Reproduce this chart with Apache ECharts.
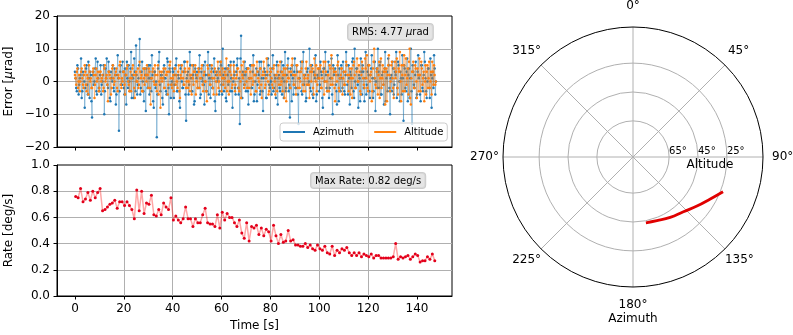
<!DOCTYPE html>
<html>
<head>
<meta charset="utf-8">
<script src="https://cdn.jsdelivr.net/npm/echarts@6/dist/echarts.min.js"></script>
<style>
  html, body { margin: 0; padding: 0; background: #fff; }
  #chart { width: 793px; height: 335px; }
</style>
</head>
<body>
<div id="chart"></div>
<script>
// pointing error, µrad: samples on the half second (A) and on the quarter offsets (B)
const azimuthErrA = [
  3, -2, 5, -4, 1, 7, -3, 2, -8, 4, -1, 6, -5, 2, -11, 3, 0, 7, -4, 1,
  -3, 5, -1, 2, -10, 4, 7, -2, 3, -6, 1, 5, -3, 2, -4, 8, -15, 3, -1, 6,
  -2, 4, -7, 1, 5, -3, 9, 2, -5, 3, 11, -4, 1, 13, -2, 6, -3, 4, -9, 2,
  5, -4, 1, 8, -6, 3, -2, -17, 4, 9, -3, 2, -7, 5, 1, -4, 6, -10, 3, -1,
  4, -5, 2, 7, -3, 1, -8, 5, -2, 3, 6, -12, 2, -4, 9, 1, -3, 5, -6, 2,
  3, -2, 8, -4, 1, 5, -7, 2, -3, 9, 1, -5, 4, -2, 7, -9, 3, 1, -4, 6,
  -1, 10, -3, 4, -6, 2, 5, -3, 1, -8, 6, -2, 3, 7, -4, -13, 14, -5, 2, 6,
  -3, 4, -7, 1, 5, -2, 8, -4, 2, -6, 3, 6, -3, 1, -9, 4, 2, -5, 7, -1,
  3, -4, 8, -2, 1, 5, -7, 2, -3, 6, 1, -5, 9, -2, 4, -3, -11, 2, 5, -4,
  7, -2, 3, -13, 1, 6, -4, 9, 2, -6, 3, -1, 10, -3, 5, -5, 2, 8, -4, 1,
  -3, 6, 2, -8, 4, 9, -2, 3, -5, 1, 7, -10, 2, 4, -3, 8, -6, 1, 5, -2,
  3, -4, 9, -1, 5, -7, 2, 6, -3, 10, -2, 4, -8, 1, 7, -4, 3, -6, 9, -1,
  5, -3, 2, 8, -5, 1, -9, 4, 10, -2, 6, -4, 3, -7, 9, 1, -3, 5, -10, 2,
  6, -4, 3, 9, -2, 5, -6, 1, 8, -12, 4, -3, 7, 2, -5, 10, -13, 3, -2, 6,
  -4, 8, 2, -6, 5, -3, 9, 1, -5, 4, -2, 7, -8, 3, 8, -4
];
const azimuthErrB = [
  1, -3, 4, -1, 2, -5, 3, 0, -2, 5, -4, 1, 3, -6, 2, -1, 4, -3, 6, -2,
  2, -4, 0, 5, -3, 1, -1, 6, -5, 3, 0, -2, 4, -7, 2, 1, -3, 5, -1, 3,
  -4, 2, 6, -2, 0, 4, -5, 1, 7, -3, 2, -1, 5, -4, 3, 0, -6, 2, 4, -2,
  1, 5, -3, 2, -8, 3, 0, -4, 6, -1, 2, -5, 3, 1, -3, 7, -2, 4, -5, 0,
  3, -1, 5, -3, 2, -6, 4, 0, -2, 6, -4, 1, 3, -1, 5, -3, 2, -7, 4, 1,
  -2, 4, -5, 3, 0, -1, 6, -3, 2, -4, 5, 1, -2, 3, -6, 2, 0, 4, -3, 5,
  -4, 2, 1, -5, 4, -1, 3, 6, -3, 0, 2, -4, 5, -2, 1, 7, -5, 3, -1, 2,
  4, -3, 1, 5, -2, 3, -6, 0, 4, -1, 2, -4, 6, -3, 1, 3, -5, 2, 5, -2,
  0, 4, -3, 2, -5, 6, 1, -2, 3, -4, 5, 0, -3, 2, 7, -1, 4, -6, 1, 3,
  -2, 5, -4, 1, 3, -3, 6, -1, 2, -5, 4, 0, -2, 5, -4, 3, 1, -6, 2, 4,
  -1, 3, -5, 4, 0, 2, -3, 6, -2, 1, -4, 5, 3, -1, -7, 2, 4, -3, 1, 6,
  -3, 2, 5, -4, 1, 3, -2, 7, -5, 0, 4, -1, 2, -6, 3, 5, -2, 1, -4, 3,
  2, -5, 4, 1, -3, 6, 0, -2, 3, 5, -4, 2, -1, 4, -6, 3, 7, -2, 1, -3,
  4, -1, 2, -5, 6, 0, 3, -4, 1, 5, -2, 3, -6, 4, 1, -3, 5, -1, 2, -5,
  3, 1, -4, 5, -2, 2, 6, -3, 0, 4, -5, 2, 1, -2, 4, 0
];
const altitudeErrA = [
  2, -1, 4, 0, -3, 3, 1, -2, 5, -1, 2, -4, 3, 1, -2, 4, -5, 2, 0, 3,
  -2, 3, 1, -3, 4, 0, 2, -6, 3, 1, -2, 5, -1, 2, 4, -3, 1, 6, -2, 0,
  3, -4, 2, 5, -1, 1, -3, 4, 2, -5, 3, 0, -2, 6, 1, -3, 4, -1, 2, 5,
  -2, 3, -7, 1, 4, -1, 2, -3, 5, 0, -8, 3, 1, -2, 4, 2, -4, 3, 6, -1,
  1, -3, 4, 2, -2, 5, -5, 1, 3, -1, 4, -2, 6, 0, -3, 2, 5, -1, 3, -4,
  2, 4, -2, 1, 5, -3, 3, 0, -6, 4, 2, -1, 5, -2, 1, 3, -4, 6, 0, 2,
  -3, 4, 1, -2, 7, 0, -4, 3, 2, -1, 5, -3, 1, 4, -2, 3, -5, 2, 6, -1,
  3, -2, 4, 1, -4, 5, 0, 2, -3, 6, 1, -2, 4, -5, 3, 2, -1, 7, 0, -3,
  4, 1, -2, 5, -4, 2, 3, -1, 6, 0, -3, 4, 2, -6, 5, 1, -2, 3, 7, -1,
  2, -4, 5, 1, -2, 3, 6, -3, 1, 4, -1, 2, -5, 5, 3, -2, 7, 0, -3, 4,
  1, 5, -2, 3, -4, 6, 0, 2, -3, 4, 8, -1, 3, -6, 2, 5, -2, 1, 4, -4,
  3, -1, 6, 2, -3, 4, 1, -5, 5, 2, -2, 7, 0, 3, -4, 6, 1, -2, 4, 8,
  -3, 5, 2, -6, 4, 10, -1, 3, -4, 6, 1, -2, 5, 3, -7, 4, 2, 8, -3, 5,
  1, -5, 6, 3, -2, 4, 9, -6, 2, 5, -3, 7, 1, -4, 10, -7, 3, 6, -2, 4,
  -5, 2, 7, -3, 4, 1, -6, 5, 3, -2, 6, 0, -4, 3, 5, -1
];
const altitudeErrB = [
  1, 3, -2, 2, 0, 4, -1, 2, 3, -3, 1, 5, 0, -2, 3, 2, -1, 4, 1, -3,
  3, 0, 2, -2, 5, 1, -1, 3, 2, -4, 4, 1, 0, 3, -2, 2, 5, -1, 1, 3,
  -1, 2, 4, 0, -3, 3, 1, 5, -2, 2, 0, 4, -1, 3, 2, -3, 1, 4, 0, 2,
  4, -2, 1, 3, 0, 5, -1, 2, -4, 3, 1, 0, 4, -2, 2, 3, -1, 5, 1, -2,
  2, 4, -1, 0, 3, -3, 2, 5, 1, -1, 3, 0, -2, 4, 2, -4, 1, 3, 5, 0,
  -2, 3, 1, 4, -1, 2, 0, -3, 5, 2, -1, 3, 1, -4, 4, 0, 2, -2, 3, 6,
  1, -1, 3, 2, -3, 4, 0, 5, -2, 1, 3, -1, 2, 4, -3, 0, 5, 1, -2, 3,
  0, 4, -2, 3, 1, -1, 5, 2, -3, 3, 0, 4, -1, 2, 6, -2, 1, 3, -4, 2,
  3, -1, 4, 0, 2, -3, 5, 1, -1, 3, 2, -5, 4, 0, 1, 3, -2, 5, 2, -1,
  2, 5, -2, 3, 0, 4, -1, 2, -3, 6, 1, -1, 3, 0, 4, -4, 2, 5, -1, 1,
  4, -2, 1, 6, 0, 3, -3, 2, 5, -1, 1, 4, -2, 3, 0, 6, -3, 2, 4, 1,
  -1, 3, 5, 0, 2, -4, 4, 1, 6, -2, 3, 0, 5, -3, 2, 4, -1, 7, 1, -2,
  5, 0, 3, -3, 6, 1, -2, 4, 2, -5, 7, 1, -1, 4, 3, -6, 5, 2, 0, 6,
  -2, 4, 1, 7, -4, 3, 0, 5, -3, 8, 2, -1, 4, 6, -5, 1, 3, -2, 5, 0,
  4, -3, 2, 6, -1, 3, 0, -4, 5, 1, -2, 3, 6, -1, 2, 0
];
const errStep = 0.5;

// slew rate, one sample per second, deg/s
const rateValues = [
  0.76, 0.75, 0.82, 0.72, 0.74, 0.79, 0.73, 0.80, 0.75, 0.79, 0.82,
  0.65, 0.66, 0.68, 0.70, 0.71, 0.73, 0.67, 0.72, 0.72, 0.69,
  0.72, 0.69, 0.66, 0.59, 0.81, 0.65, 0.80, 0.63, 0.71, 0.70,
  0.77, 0.62, 0.61, 0.66, 0.62, 0.71, 0.68, 0.66, 0.75, 0.58,
  0.61, 0.58, 0.56, 0.59, 0.68, 0.59, 0.59, 0.53, 0.59, 0.56,
  0.56, 0.62, 0.67, 0.56, 0.55, 0.55, 0.53, 0.62, 0.52, 0.64,
  0.58, 0.63, 0.60, 0.60, 0.56, 0.53, 0.58, 0.48, 0.44, 0.56,
  0.42, 0.53, 0.52, 0.54, 0.47, 0.52, 0.46, 0.51, 0.49, 0.42,
  0.54, 0.46, 0.40, 0.47, 0.41, 0.42, 0.50, 0.42, 0.43, 0.39,
  0.39, 0.38, 0.38, 0.40, 0.37, 0.39, 0.36, 0.35, 0.39, 0.36,
  0.35, 0.38, 0.33, 0.32, 0.38, 0.31, 0.35, 0.33, 0.36, 0.35,
  0.37, 0.33, 0.31, 0.33, 0.31, 0.33, 0.30, 0.32, 0.31, 0.30,
  0.32, 0.29, 0.31, 0.31, 0.29, 0.29, 0.29, 0.29, 0.29, 0.30,
  0.40, 0.28, 0.30, 0.29, 0.30, 0.31, 0.28, 0.30, 0.32, 0.31,
  0.26, 0.27, 0.27, 0.30, 0.28, 0.32, 0.27
];
const rateStart = 0.3;

// sky track
const trackAzimuth = [168.9, 159.4, 148.4, 137.3, 127.5, 118.5, 111.1];
const trackAltitude = [43.6, 42.9, 40.9, 38.5, 34.2, 29.1, 23.2];

const timeTicks = [0, 20, 40, 60, 80, 100, 120, 140];
const altRings = [25, 45, 65];

const FONT = "'DejaVu Sans', sans-serif";
const GRID_COLOR = '#b0b0b0';

// merge the two sample sets in time order
function errSeries(a, b) {
    const out = [];
    const n = Math.max(a.length, b.length);
    for (let i = 0; i < n; i++) {
        if (a[i] !== undefined) out.push([i * errStep, a[i]]);
        if (b[i] !== undefined) out.push([i * errStep + errStep / 2, b[i]]);
    }
    return out;
}
const azData = errSeries(azimuthErrA, azimuthErrB);
const altData = errSeries(altitudeErrA, altitudeErrB);
const rateData = rateValues.map((v, i) => [rateStart + i, v]);
const trackData = trackAltitude.map((a, i) => [a, trackAzimuth[i]]);

const minus = v => (v < 0 ? '\u2212' + Math.abs(v) : String(v));

function timeAxis(gridIndex, withLabels) {
    return {
        type: 'value', gridIndex: gridIndex,
        min: -7.35, max: 154.35, splitNumber: 8,
        axisLine: { show: true, onZero: false, lineStyle: { color: '#000', width: 1 } },
        axisTick: { show: true, length: 3.5, customValues: timeTicks, lineStyle: { color: '#000' } },
        axisLabel: {
            show: withLabels, customValues: timeTicks, margin: 7,
            fontSize: 12, color: '#000', fontFamily: FONT
        },
        splitLine: { show: true, showMinLine: false, showMaxLine: false, lineStyle: { color: GRID_COLOR, width: 1 } },
        name: withLabels ? 'Time [s]' : '',
        nameLocation: 'middle', nameGap: 24,
        nameTextStyle: { fontSize: 12, color: '#000', fontFamily: FONT }
    };
}

const angleRich = {
    l0: { fontSize: 12, padding: [0, 0, 15, 0] },
    l45: { fontSize: 12, padding: [0, 0, 8, 3] },
    l90: { fontSize: 12, padding: [0, 0, 0, 9] },
    l135: { fontSize: 12, padding: [5, 0, 0, 0] },
    l180: { fontSize: 12, padding: [12, 0, 0, 0] },
    l225: { fontSize: 12, padding: [5, 0, 0, 0] },
    l270: { fontSize: 12, padding: [0, 4, 0, 0] },
    l315: { fontSize: 12, padding: [0, 0, 8, 0] },
    az: { fontSize: 12, padding: [2, 0, 0, 0] }
};

const chart = echarts.init(document.getElementById('chart'), null, { renderer: 'canvas' });

const option = {
    animation: false,
    backgroundColor: '#fff',
    textStyle: { fontFamily: FONT, color: '#000' },
    grid: [
        { left: 57, top: 16, width: 395, height: 131, show: true, borderColor: '#000', borderWidth: 1, outerBoundsMode: 'none' },
        { left: 57, top: 165, width: 395, height: 131, show: true, borderColor: '#000', borderWidth: 1, outerBoundsMode: 'none' }
    ],
    xAxis: [timeAxis(0, false), timeAxis(1, true)],
    yAxis: [
        {
            type: 'value', gridIndex: 0, min: -20, max: 20, interval: 10,
            axisLine: { show: true, onZero: false, lineStyle: { color: '#000' } },
            axisTick: { show: true, length: 3.5, lineStyle: { color: '#000' } },
            axisLabel: { margin: 7, fontSize: 12, color: '#000', fontFamily: FONT, formatter: minus },
            splitLine: { show: true, showMinLine: false, showMaxLine: false, lineStyle: { color: GRID_COLOR, width: 1 } },
            name: '{n|Error [}{i|μ}{n|rad]}',
            nameLocation: 'middle', nameGap: 42,
            nameTextStyle: {
                fontSize: 12, color: '#000', fontFamily: FONT,
                rich: {
                    n: { fontSize: 12, fontFamily: FONT, color: '#000' },
                    i: { fontSize: 12, fontFamily: FONT, color: '#000', fontStyle: 'italic' }
                }
            }
        },
        {
            type: 'value', gridIndex: 1, min: 0, max: 1, interval: 0.2,
            axisLine: { show: true, onZero: false, lineStyle: { color: '#000' } },
            axisTick: { show: true, length: 3.5, lineStyle: { color: '#000' } },
            axisLabel: { margin: 7, fontSize: 12, color: '#000', fontFamily: FONT, formatter: v => v.toFixed(1) },
            splitLine: { show: true, showMinLine: false, showMaxLine: false, lineStyle: { color: GRID_COLOR, width: 1 } },
            name: 'Rate [deg/s]',
            nameLocation: 'middle', nameGap: 42,
            nameTextStyle: { fontSize: 12, color: '#000', fontFamily: FONT }
        }
    ],
    polar: { center: [633, 157], radius: 130 },
    angleAxis: {
        type: 'value', min: 90, max: 450, interval: 45,
        startAngle: 0, clockwise: true,
        axisLine: { show: true, lineStyle: { color: '#000', width: 1 } },
        axisTick: { show: false },
        splitLine: { show: true, lineStyle: { color: GRID_COLOR, width: 1 } },
        axisLabel: {
            margin: 0, fontSize: 12, color: '#000', fontFamily: FONT,
            formatter: v => {
                const a = v % 360;
                if (a === 180) return '{l180|180°}\n{az|Azimuth}';
                return '{l' + a + '|' + a + '°}';
            },
            rich: angleRich
        }
    },
    radiusAxis: {
        type: 'value', min: 0, max: 90, inverse: true,
        axisLine: { show: false },
        axisTick: { show: false, customValues: altRings },
        splitLine: { show: true, lineStyle: { color: GRID_COLOR, width: 1 } },
        axisLabel: {
            customValues: altRings, formatter: v => v + '°',
            fontSize: 10, color: '#000', fontFamily: FONT, align: 'left', margin: 1
        },
        name: 'Altitude', nameLocation: 'middle', nameGap: 2,
        nameTextStyle: { fontSize: 12, color: '#000', fontFamily: FONT, padding: [0, 0, 0, 24] }
    },
    legend: {
        left: 280, top: 123,
        data: [
            { name: 'Azimuth', icon: 'rect', itemStyle: { color: '#1f77b4', borderWidth: 0 } },
            { name: 'Altitude', icon: 'rect', itemStyle: { color: '#ff7f0e', borderWidth: 0 } }
        ],
        itemWidth: 22, itemHeight: 2, itemGap: 20,
        padding: [4, 4, 4, 3],
        textStyle: { fontSize: 10, color: '#000', fontFamily: FONT, padding: [0, 0, 0, 3] },
        backgroundColor: 'rgba(255,255,255,0.8)',
        borderColor: '#cccccc', borderWidth: 1, borderRadius: 3,
        selectedMode: false, z: 10
    },
    graphic: [
        {
            type: 'text', left: 347, top: 23, z: 100,
            style: {
                text: '{n|RMS: 4.77 }{i|μ}{n|rad}',
                rich: {
                    n: { fontSize: 10, fontFamily: FONT, fill: '#000' },
                    i: { fontSize: 10, fontFamily: FONT, fill: '#000', fontStyle: 'italic' }
                },
                backgroundColor: 'rgba(220,220,220,0.75)',
                borderColor: 'rgba(170,170,170,0.6)', borderWidth: 1, borderRadius: 3,
                padding: [3, 4, 3, 4]
            }
        },
        {
            type: 'text', left: 310, top: 172, z: 100,
            style: {
                text: 'Max Rate: 0.82 deg/s',
                fontSize: 10, fontFamily: FONT, fill: '#000',
                backgroundColor: 'rgba(220,220,220,0.75)',
                borderColor: 'rgba(170,170,170,0.6)', borderWidth: 1, borderRadius: 3,
                padding: [3, 4, 2, 4]
            }
        }
    ],
    series: [
        {
            name: 'Azimuth', type: 'line', xAxisIndex: 0, yAxisIndex: 0,
            data: azData, symbol: 'circle', symbolSize: 2.5, showSymbol: true,
            itemStyle: { color: '#1f77b4' },
            lineStyle: { color: 'rgba(31,119,180,0.4)', width: 1 },
            emphasis: { disabled: true }, z: 2
        },
        {
            name: 'Altitude', type: 'line', xAxisIndex: 0, yAxisIndex: 0,
            data: altData, symbol: 'circle', symbolSize: 2.5, showSymbol: true,
            itemStyle: { color: '#ff7f0e' },
            lineStyle: { color: 'rgba(255,127,14,0.4)', width: 1 },
            emphasis: { disabled: true }, z: 3
        },
        {
            name: 'Rate', type: 'line', xAxisIndex: 1, yAxisIndex: 1,
            data: rateData, symbol: 'circle', symbolSize: 3, showSymbol: true,
            itemStyle: { color: '#e3001b' },
            lineStyle: { color: 'rgba(255,0,0,0.35)', width: 1.5 },
            emphasis: { disabled: true }, z: 2
        },
        {
            name: 'Track', type: 'line', coordinateSystem: 'polar',
            data: trackData, smooth: true, showSymbol: false,
            lineStyle: { color: '#e00000', width: 2.8 },
            emphasis: { disabled: true }, z: 5
        }
    ]
};

chart.setOption(option);
window.addEventListener('resize', () => chart.resize());
</script>
</body>
</html>
